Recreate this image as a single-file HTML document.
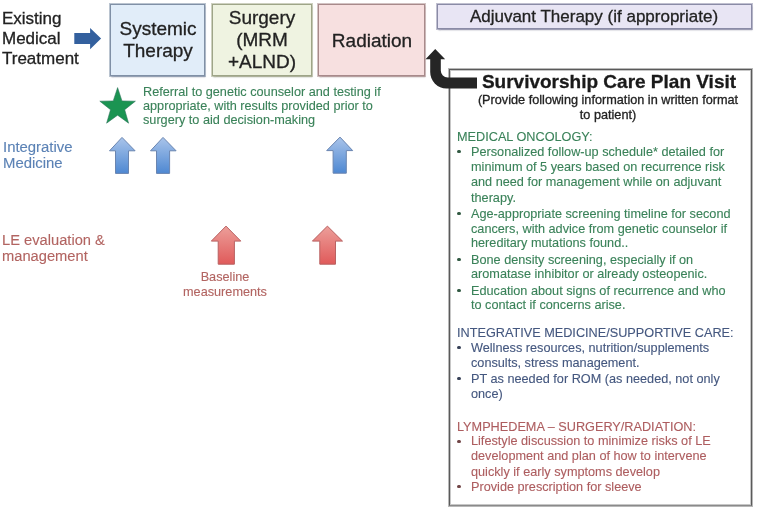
<!DOCTYPE html>
<html><head><meta charset="utf-8">
<style>
html,body{margin:0;padding:0;background:#fff;width:757px;height:509px;overflow:hidden;position:relative;}
body{font-family:"Liberation Sans",sans-serif;}
.a{position:absolute;white-space:nowrap;will-change:transform;}
.box{position:absolute;box-sizing:border-box;}
.c{text-align:center;}
svg{position:absolute;left:0;top:0;}
.dot{position:absolute;width:3.2px;height:3.2px;border-radius:50%;}
</style></head><body>

<div class="box" style="left:110px;top:4px;width:95px;height:72px;background:#e1edf9;border:1px solid #8090a6;box-shadow:0 0 0 1px rgba(130,148,170,.55),0.5px 1.5px 1.5px rgba(70,80,110,.45);"></div>
<div class="box" style="left:212px;top:4px;width:100px;height:72px;background:#eff3e1;border:1px solid #9ea588;box-shadow:0 0 0 1px rgba(165,172,140,.55),0.5px 1.5px 1.5px rgba(90,100,70,.45);"></div>
<div class="box" style="left:318px;top:4px;width:107px;height:72px;background:#f7e0e0;border:1px solid #a88a8b;box-shadow:0 0 0 1px rgba(175,145,146,.55),0.5px 1.5px 1.5px rgba(110,80,80,.45);"></div>
<div class="box" style="left:437px;top:4px;width:315px;height:25px;background:#e8e5f4;border:1px solid #8a8ba6;box-shadow:0 0 0 1px rgba(140,141,170,.55),0.5px 1.5px 1.5px rgba(80,80,110,.45);"></div>
<div class="box" style="left:449px;top:69px;width:303px;height:437px;border:1px solid #5a5a5a;border-bottom-color:#8a8a8a;box-shadow:0 0 0 1px rgba(0,0,0,.28),inset 0 0 0 1px rgba(0,0,0,.22);"></div>
<div class="a" style="left:2.00px;top:8.71px;font-size:17px;line-height:20.4px;color:#222222;-webkit-text-stroke:0.3px #222222;">Existing</div>
<div class="a" style="left:2.00px;top:29.01px;font-size:17px;line-height:20.4px;color:#222222;-webkit-text-stroke:0.3px #222222;">Medical</div>
<div class="a" style="left:2.00px;top:49.21px;font-size:17px;line-height:20.4px;color:#222222;-webkit-text-stroke:0.3px #222222;">Treatment</div>
<div class="a c" style="left:108.00px;width:100px;top:18.22px;font-size:19px;line-height:22.8px;color:#222222;-webkit-text-stroke:0.3px #222222;">Systemic</div>
<div class="a c" style="left:108.00px;width:100px;top:40.02px;font-size:19px;line-height:22.8px;color:#222222;-webkit-text-stroke:0.3px #222222;">Therapy</div>
<div class="a c" style="left:212.00px;width:100px;top:6.82px;font-size:19px;line-height:22.8px;color:#222222;-webkit-text-stroke:0.3px #222222;">Surgery</div>
<div class="a c" style="left:212.00px;width:100px;top:28.52px;font-size:19px;line-height:22.8px;color:#222222;-webkit-text-stroke:0.3px #222222;">(MRM</div>
<div class="a c" style="left:212.00px;width:100px;top:51.12px;font-size:19px;line-height:22.8px;color:#222222;-webkit-text-stroke:0.3px #222222;">+ALND)</div>
<div class="a c" style="left:317.00px;width:110px;top:29.82px;font-size:19px;line-height:22.8px;color:#222222;-webkit-text-stroke:0.3px #222222;">Radiation</div>
<div class="a c" style="left:436.00px;width:316px;top:6.61px;font-size:17px;line-height:20.4px;color:#222222;-webkit-text-stroke:0.3px #222222;">Adjuvant Therapy (if appropriate)</div>
<div class="a" style="left:142.50px;top:85.08px;font-size:12.7px;line-height:15.24px;color:#3a8259;-webkit-text-stroke:0.12px #3a8259;">Referral to genetic counselor and testing if</div>
<div class="a" style="left:142.50px;top:98.78px;font-size:12.7px;line-height:15.24px;color:#3a8259;-webkit-text-stroke:0.12px #3a8259;">appropriate, with results provided prior to</div>
<div class="a" style="left:142.50px;top:113.48px;font-size:12.7px;line-height:15.24px;color:#3a8259;-webkit-text-stroke:0.12px #3a8259;">surgery to aid decision-making</div>
<div class="a" style="left:2.50px;top:138.60px;font-size:14.9px;line-height:17.88px;color:#5b82b5;-webkit-text-stroke:0.12px #5b82b5;">Integrative</div>
<div class="a" style="left:2.50px;top:155.10px;font-size:14.9px;line-height:17.88px;color:#5b82b5;-webkit-text-stroke:0.12px #5b82b5;">Medicine</div>
<div class="a" style="left:2.00px;top:231.99px;font-size:14.7px;line-height:17.64px;color:#b26461;-webkit-text-stroke:0.12px #b26461;">LE evaluation &amp;</div>
<div class="a" style="left:2.00px;top:248.49px;font-size:14.7px;line-height:17.64px;color:#b26461;-webkit-text-stroke:0.12px #b26461;">management</div>
<div class="a c" style="left:165.00px;width:120px;top:270.18px;font-size:12.7px;line-height:15.24px;color:#b26461;-webkit-text-stroke:0.12px #b26461;">Baseline</div>
<div class="a c" style="left:165.00px;width:120px;top:284.68px;font-size:12.7px;line-height:15.24px;color:#b26461;-webkit-text-stroke:0.12px #b26461;">measurements</div>
<div class="a c" style="left:458.90px;width:300px;top:70.52px;font-size:19px;line-height:22.8px;color:#1a1a1a;-webkit-text-stroke:0.3px #1a1a1a;font-weight:bold;">Survivorship Care Plan Visit</div>
<div class="a c" style="left:458.20px;width:300px;top:92.58px;font-size:12.7px;line-height:15.24px;color:#222222;-webkit-text-stroke:0.3px #222222;">(Provide following information in written format</div>
<div class="a c" style="left:458.20px;width:300px;top:107.78px;font-size:12.7px;line-height:15.24px;color:#222222;-webkit-text-stroke:0.3px #222222;">to patient)</div>
<div class="a" style="left:457.00px;top:130.18px;font-size:12.7px;line-height:15.24px;color:#3a8259;-webkit-text-stroke:0.12px #3a8259;">MEDICAL ONCOLOGY:</div>
<div class="a" style="left:471.20px;top:145.08px;font-size:12.7px;line-height:15.24px;color:#3a8259;-webkit-text-stroke:0.12px #3a8259;">Personalized follow-up schedule* detailed for</div>
<div class="a" style="left:471.20px;top:159.88px;font-size:12.7px;line-height:15.24px;color:#3a8259;-webkit-text-stroke:0.12px #3a8259;">minimum of 5 years based on recurrence risk</div>
<div class="a" style="left:471.20px;top:175.18px;font-size:12.7px;line-height:15.24px;color:#3a8259;-webkit-text-stroke:0.12px #3a8259;">and need for management while on adjuvant</div>
<div class="a" style="left:471.20px;top:190.58px;font-size:12.7px;line-height:15.24px;color:#3a8259;-webkit-text-stroke:0.12px #3a8259;">therapy.</div>
<div class="a" style="left:471.20px;top:207.08px;font-size:12.7px;line-height:15.24px;color:#3a8259;-webkit-text-stroke:0.12px #3a8259;">Age-appropriate screening timeline for second</div>
<div class="a" style="left:471.20px;top:221.68px;font-size:12.7px;line-height:15.24px;color:#3a8259;-webkit-text-stroke:0.12px #3a8259;">cancers, with advice from genetic counselor if</div>
<div class="a" style="left:471.20px;top:235.88px;font-size:12.7px;line-height:15.24px;color:#3a8259;-webkit-text-stroke:0.12px #3a8259;">hereditary mutations found..</div>
<div class="a" style="left:471.20px;top:252.58px;font-size:12.7px;line-height:15.24px;color:#3a8259;-webkit-text-stroke:0.12px #3a8259;">Bone density screening, especially if on</div>
<div class="a" style="left:471.20px;top:267.18px;font-size:12.7px;line-height:15.24px;color:#3a8259;-webkit-text-stroke:0.12px #3a8259;">aromatase inhibitor or already osteopenic.</div>
<div class="a" style="left:471.20px;top:283.68px;font-size:12.7px;line-height:15.24px;color:#3a8259;-webkit-text-stroke:0.12px #3a8259;">Education about signs of recurrence and who</div>
<div class="a" style="left:471.20px;top:297.88px;font-size:12.7px;line-height:15.24px;color:#3a8259;-webkit-text-stroke:0.12px #3a8259;">to contact if concerns arise.</div>
<div class="a" style="left:457.00px;top:326.38px;font-size:12.7px;line-height:15.24px;color:#44577f;-webkit-text-stroke:0.12px #44577f;">INTEGRATIVE MEDICINE/SUPPORTIVE CARE:</div>
<div class="a" style="left:471.20px;top:340.88px;font-size:12.7px;line-height:15.24px;color:#44577f;-webkit-text-stroke:0.12px #44577f;">Wellness resources, nutrition/supplements</div>
<div class="a" style="left:471.20px;top:355.98px;font-size:12.7px;line-height:15.24px;color:#44577f;-webkit-text-stroke:0.12px #44577f;">consults, stress management.</div>
<div class="a" style="left:471.20px;top:371.78px;font-size:12.7px;line-height:15.24px;color:#44577f;-webkit-text-stroke:0.12px #44577f;">PT as needed for ROM (as needed, not only</div>
<div class="a" style="left:471.20px;top:386.88px;font-size:12.7px;line-height:15.24px;color:#44577f;-webkit-text-stroke:0.12px #44577f;">once)</div>
<div class="a" style="left:457.00px;top:419.78px;font-size:12.7px;line-height:15.24px;color:#ad5d5f;-webkit-text-stroke:0.12px #ad5d5f;">LYMPHEDEMA – SURGERY/RADIATION:</div>
<div class="a" style="left:471.20px;top:434.48px;font-size:12.7px;line-height:15.24px;color:#ad5d5f;-webkit-text-stroke:0.12px #ad5d5f;">Lifestyle discussion to minimize risks of LE</div>
<div class="a" style="left:471.20px;top:448.88px;font-size:12.7px;line-height:15.24px;color:#ad5d5f;-webkit-text-stroke:0.12px #ad5d5f;">development and plan of how to intervene</div>
<div class="a" style="left:471.20px;top:464.78px;font-size:12.7px;line-height:15.24px;color:#ad5d5f;-webkit-text-stroke:0.12px #ad5d5f;">quickly if early symptoms develop</div>
<div class="a" style="left:471.20px;top:479.58px;font-size:12.7px;line-height:15.24px;color:#ad5d5f;-webkit-text-stroke:0.12px #ad5d5f;">Provide prescription for sleeve</div>
<div class="dot" style="left:457.40px;top:150.20px;background:#315942;"></div>
<div class="dot" style="left:457.40px;top:212.20px;background:#315942;"></div>
<div class="dot" style="left:457.40px;top:257.70px;background:#315942;"></div>
<div class="dot" style="left:457.40px;top:288.80px;background:#315942;"></div>
<div class="dot" style="left:457.40px;top:346.00px;background:#374157;"></div>
<div class="dot" style="left:457.40px;top:376.90px;background:#374157;"></div>
<div class="dot" style="left:457.40px;top:439.60px;background:#714546;"></div>
<div class="dot" style="left:457.40px;top:484.70px;background:#714546;"></div>
<svg width="757" height="509" viewBox="0 0 757 509">
  <defs>
    <linearGradient id="gb" x1="0" y1="0" x2="0" y2="1">
      <stop offset="0" stop-color="#a9c4ea"/><stop offset="1" stop-color="#4e88d2"/>
    </linearGradient>
    <linearGradient id="gr" x1="0" y1="0" x2="0" y2="1">
      <stop offset="0" stop-color="#ec9f9a"/><stop offset="1" stop-color="#e05a5a"/>
    </linearGradient>
  </defs>
  <path d="M74.3,33.1 H90.1 V27.9 L101.1,38.6 L90.1,49.2 V44.1 H74.3 Z" fill="#33609e"/>
  <polygon fill="#1b9452" stroke="#2f6f5c" stroke-opacity=".6" stroke-width=".9" stroke-linejoin="round" points="117.6,87.6 122.0,100.9 135.4,101.2 124.7,109.7 128.6,123.2 117.6,115.2 106.6,123.2 110.5,109.7 99.8,101.2 113.2,100.9"/>
  <path d="M122,137.4 L135.1,150.8 H128.5 V173.4 H115.5 V150.8 H109.5 Z" fill="url(#gb)" stroke="#6a85b0" stroke-width="1"/>
  <path d="M163,137.4 L176.1,150.8 H169.6 V173.4 H156.5 V150.8 H150.5 Z" fill="url(#gb)" stroke="#6a85b0" stroke-width="1"/>
  <path d="M340,137.1 L352.7,150.6 H346.3 V173.2 H333.1 V150.6 H326.7 Z" fill="url(#gb)" stroke="#6a85b0" stroke-width="1"/>
  <path d="M226,226.1 L240.8,241.1 H234.4 V264.2 H218.2 V241.1 H211.3 Z" fill="url(#gr)" stroke="#b96262" stroke-width="1"/>
  <path d="M327.4,226.1 L342.5,241.1 H335.5 V264.2 H319.8 V241.1 H312.4 Z" fill="url(#gr)" stroke="#b96262" stroke-width="1"/>
  <path d="M435.2,49 L445.2,59.3 H440.8 V70.5 A7,7 0 0 0 447.8,77.6 H477 V88.4 H446.5 A16.3,16.3 0 0 1 430.2,72.1 V59.3 H425.5 Z" fill="#252525"/>
</svg>
</body></html>
